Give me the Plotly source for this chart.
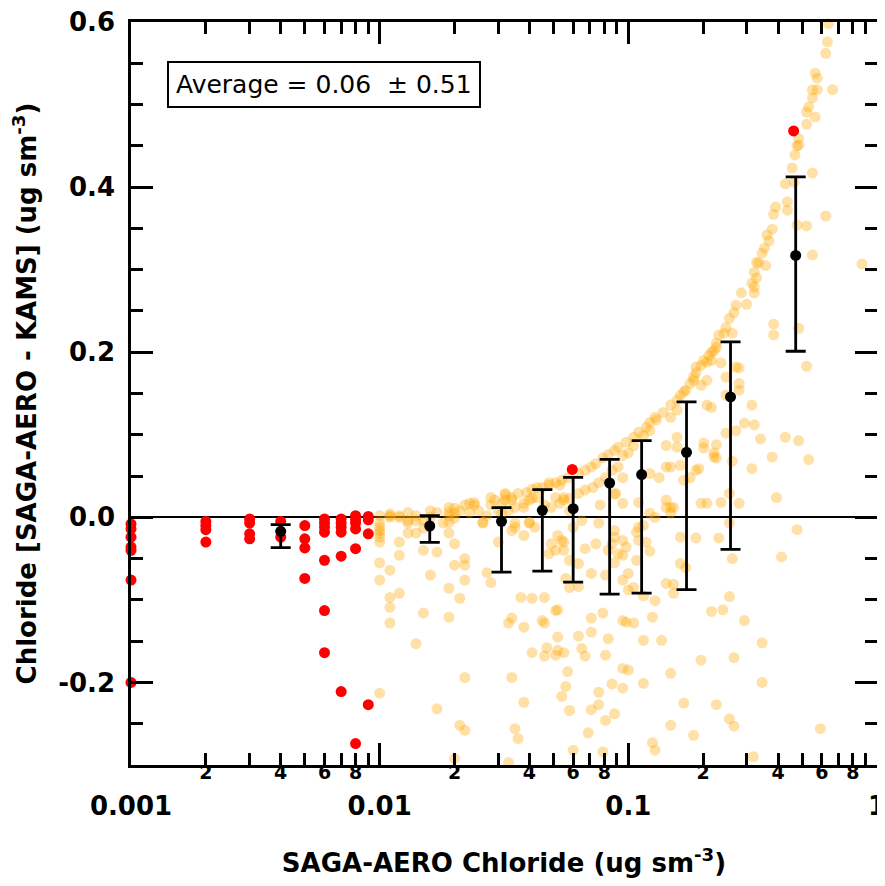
import plotly.graph_objects as go

# ---------------- data ----------------
# orange: all samples (x = SAGA-AERO chloride, y = SAGA-AERO - KAMS)
orange_x = [
    0.010, 0.010, 0.010, 0.010, 0.010, 0.010, 0.010, 0.010, 0.010, 0.010,
    0.011, 0.011, 0.011, 0.011, 0.011, 0.011, 0.011,
    0.012, 0.012, 0.012, 0.012, 0.012,
    0.013, 0.013, 0.013, 0.013,
    0.014, 0.014, 0.014, 0.014,
    0.015, 0.015, 0.015, 0.015,
    0.016, 0.016, 0.016,
    0.017, 0.017, 0.017,
    0.018,
    0.019, 0.019, 0.019, 0.019, 0.019, 0.019, 0.019,
    0.020, 0.020, 0.020, 0.020, 0.020, 0.020,
    0.021, 0.021, 0.021,
    0.022, 0.022, 0.022, 0.022, 0.022, 0.022,
    0.023, 0.023, 0.024, 0.024, 0.025, 0.026, 0.026,
    0.027, 0.027, 0.028, 0.028, 0.028, 0.029,
    0.030, 0.030, 0.031, 0.031, 0.032, 0.032, 0.032,
    0.033, 0.033, 0.033, 0.034, 0.034, 0.034, 0.034, 0.034,
    0.035, 0.035, 0.035, 0.035, 0.036, 0.036, 0.037,
    0.038, 0.038, 0.038, 0.038, 0.038, 0.039, 0.040, 0.040, 0.040,
    0.041, 0.041, 0.041, 0.041, 0.042, 0.043, 0.043, 0.045, 0.045,
    0.046, 0.046, 0.046, 0.046, 0.047, 0.048, 0.048, 0.048, 0.049, 0.049,
    0.051, 0.051, 0.051, 0.051, 0.051, 0.052, 0.052, 0.052, 0.052,
    0.053, 0.053, 0.054, 0.054, 0.054,
    0.055, 0.055, 0.055, 0.055, 0.055, 0.056, 0.056, 0.057, 0.057,
    0.058, 0.058, 0.058, 0.058, 0.058, 0.060, 0.060,
    0.063, 0.063, 0.063, 0.063, 0.063, 0.065, 0.065,
    0.067, 0.067, 0.067, 0.067, 0.069,
    0.071, 0.071, 0.071, 0.071, 0.071, 0.072, 0.074, 0.074,
    0.076, 0.076, 0.076, 0.076, 0.077, 0.079, 0.079, 0.079,
    0.081, 0.081, 0.081, 0.081, 0.083, 0.083, 0.083, 0.086, 0.086, 0.086,
    0.088, 0.088, 0.088, 0.088, 0.088, 0.088, 0.089, 0.091, 0.091, 0.091,
    0.095, 0.095, 0.095, 0.095, 0.095, 0.095, 0.095, 0.095, 0.095,
    0.098, 0.098, 0.098, 0.100, 0.100, 0.100, 0.100,
    0.105, 0.105, 0.105, 0.105, 0.108, 0.108, 0.110, 0.110, 0.110, 0.110,
    0.115, 0.115, 0.115, 0.115, 0.115, 0.118, 0.118,
    0.122, 0.122, 0.122, 0.122, 0.122, 0.125, 0.125,
    0.128, 0.128, 0.128, 0.128, 0.130, 0.133, 0.136, 0.138,
    0.142, 0.142, 0.142, 0.142, 0.142,
    0.148, 0.148, 0.148, 0.148, 0.148, 0.148, 0.148,
    0.152, 0.152, 0.152, 0.157, 0.157, 0.157, 0.157,
    0.162, 0.162, 0.162, 0.162, 0.167, 0.167, 0.167, 0.170, 0.170,
    0.177, 0.177, 0.183, 0.183, 0.183, 0.187, 0.187, 0.187, 0.187, 0.192,
    0.196, 0.196, 0.196, 0.196, 0.201, 0.201, 0.201,
    0.207, 0.207, 0.207, 0.207, 0.211, 0.216, 0.216, 0.216, 0.216,
    0.221, 0.221, 0.221, 0.226, 0.226, 0.226, 0.226, 0.226,
    0.231, 0.231, 0.236, 0.236, 0.240, 0.243,
    0.247, 0.247, 0.247, 0.247, 0.255, 0.255, 0.255, 0.255, 0.255,
    0.262, 0.262, 0.262, 0.266, 0.266, 0.266, 0.271, 0.271, 0.271,
    0.279, 0.279, 0.279, 0.279, 0.285, 0.293, 0.293, 0.299,
    0.314, 0.314, 0.314, 0.318, 0.321, 0.321, 0.321, 0.321,
    0.328, 0.328, 0.334, 0.340, 0.345, 0.345, 0.345, 0.353, 0.357, 0.361,
    0.368, 0.379, 0.379, 0.384, 0.384, 0.384, 0.391, 0.394, 0.413,
    0.428, 0.428, 0.436, 0.436, 0.456, 0.464, 0.468,
    0.477, 0.477, 0.477, 0.484, 0.484, 0.484, 0.484,
    0.521, 0.521, 0.521, 0.521, 0.531, 0.531,
    0.550, 0.550, 0.550, 0.550, 0.564, 0.564, 0.575, 0.575,
    0.592, 0.622, 0.622, 0.632, 0.638, 0.663, 0.870,
]
orange_y = [
    0.002, -0.007, -0.012, -0.016, -0.019, -0.024, -0.030, -0.055, -0.076, -0.213,
    0.002, 0.000, -0.064, -0.097, -0.109, -0.128, 0.004,
    -0.030, -0.046, -0.092, 0.000, 0.002,
    0.006, -0.019, -0.004, -0.007,
    -0.153, -0.019, 0.002, -0.004,
    -0.040, -0.116, -0.004, -0.013,
    0.008, -0.070, 0.000,
    -0.042, -0.232, 0.006,
    -0.007,
    0.012, -0.019, -0.086, -0.121, 0.002, -0.006, 0.006,
    -0.032, -0.058, -0.292, 0.005, -0.001, 0.011,
    -0.098, -0.252, 0.008,
    -0.050, -0.058, -0.076, -0.194, -0.258, 0.015,
    0.006, 0.017, 0.015, 0.018, 0.008, -0.007, -0.006,
    -0.067, 0.002, -0.079, 0.015, 0.024, 0.021,
    -0.030, 0.008, 0.017, 0.005, 0.021, 0.027, 0.029,
    -0.128, -0.297, 0.008, -0.122, -0.194, 0.024, 0.021, -0.016,
    -0.256, 0.012, -0.012, -0.007, -0.268, 0.029, -0.097,
    -0.133, -0.224, 0.017, -0.022, 0.012, 0.030, 0.021, -0.006, -0.007,
    -0.098, -0.164, 0.034, 0.023, -0.012, 0.024, 0.036, 0.036, -0.125,
    -0.097, -0.128, -0.168, 0.015, -0.158, 0.039, -0.044, 0.042, 0.012, -0.032,
    -0.113, -0.167, 0.042, -0.040, 0.024, -0.022, -0.112, -0.145, -0.161,
    0.017, 0.039, -0.217, 0.045, -0.028,
    0.024, 0.021, -0.030, -0.040, -0.164, -0.074, -0.205, -0.187, 0.048,
    0.023, 0.008, -0.052, -0.085, -0.234, -0.282, -0.012,
    0.053, 0.029, -0.084, -0.144, -0.056, -0.004, -0.159,
    0.057, -0.168, 0.033, -0.038, -0.261,
    0.061, -0.068, -0.122, -0.139, -0.233, 0.036, 0.065, -0.032,
    -0.227, 0.042, -0.007, -0.212, 0.015, 0.072, -0.116, -0.284,
    0.048, -0.070, -0.246, -0.167, 0.076, -0.040, -0.147, 0.057, -0.032, -0.202,
    0.081, -0.016, -0.024, -0.055, -0.238, 0.028, 0.029, 0.061, -0.044, 0.085,
    0.075, 0.017, -0.028, -0.046, -0.125, -0.183, -0.207, 0.048, -0.076,
    0.091, -0.036, -0.127, 0.078, -0.068, -0.088, -0.185,
    0.097, 0.087, -0.085, -0.128, -0.018, -0.052, 0.103, -0.012, 0.018, -0.028,
    0.099, -0.010, -0.095, -0.149, -0.201, 0.109, -0.030,
    0.105, 0.115, 0.053, 0.005, -0.041, -0.121, -0.273,
    -0.101, 0.121, 0.000, -0.282, 0.118, 0.048, -0.149, 0.127,
    0.021, 0.087, 0.061, 0.012, -0.080,
    0.136, 0.121, 0.061, -0.189, 0.012, 0.005, -0.252,
    0.012, -0.081, -0.092, 0.142, 0.130, 0.097, 0.085,
    0.063, 0.148, -0.024, -0.056, 0.045, -0.225, 0.152, 0.154, -0.061,
    0.162, 0.048, 0.170, -0.264, 0.166, -0.025, 0.182, 0.057, 0.175, 0.059,
    0.160, 0.017, -0.173, 0.184, 0.190, 0.090, 0.084,
    0.017, 0.188, 0.166, 0.136, 0.196, 0.190, 0.200, 0.133, -0.114,
    0.202, 0.078, 0.073, 0.211, 0.072, -0.227, 0.206, 0.088,
    -0.025, 0.221, 0.187, 0.018, -0.112, 0.223,
    0.148, 0.102, 0.230, 0.170, -0.244, -0.007, -0.096, 0.241, 0.029,
    -0.050, 0.223, 0.068, -0.170, -0.253, 0.248, 0.182, 0.105, 0.257,
    0.162, 0.017, 0.181, 0.154, 0.272, 0.114, -0.125, 0.258,
    0.136, 0.059, 0.284, -0.290, 0.297, 0.279, 0.272, 0.112,
    0.309, 0.290, 0.308, 0.095, 0.320, -0.152, -0.200, 0.326, 0.305, 0.342,
    0.335, 0.349, 0.073, 0.221, 0.234, 0.367, 0.376, 0.024, -0.048,
    0.404, 0.097, 0.372, 0.382, 0.423, 0.406, 0.439,
    0.450, 0.354, -0.015, 0.451, 0.459, 0.229, 0.093,
    0.183, 0.476, 0.491, 0.353, 0.497, 0.070,
    0.508, 0.518, 0.318, 0.417, 0.485, 0.538, 0.518, 0.532,
    -0.256, 0.365, 0.562, 0.576, 0.598, 0.518, 0.307,
]

# red: highlighted samples
red_x = [
    0.001, 0.001, 0.001, 0.001, 0.001, 0.001, 0.001,
    0.002, 0.002, 0.002, 0.002,
    0.003, 0.003, 0.003, 0.003,
    0.004, 0.004,
    0.005, 0.005, 0.005, 0.005,
    0.006, 0.006, 0.006, 0.006, 0.006, 0.006, 0.006,
    0.007, 0.007, 0.007, 0.007, 0.007, 0.007,
    0.008, 0.008, 0.008, 0.008, 0.008, 0.008,
    0.009, 0.009, 0.009, 0.009,
    0.0595, 0.462,
]
red_y = [
    -0.008, -0.014, -0.024, -0.036, -0.040, -0.076, -0.200,
    -0.005, -0.010, -0.015, -0.030,
    -0.002, -0.007, -0.020, -0.026,
    -0.005, -0.024,
    -0.010, -0.026, -0.037, -0.074,
    -0.002, -0.007, -0.012, -0.018, -0.052, -0.113, -0.164,
    -0.002, -0.007, -0.012, -0.018, -0.047, -0.211,
    0.002, -0.003, -0.007, -0.014, -0.038, -0.274,
    0.001, -0.003, -0.020, -0.227,
    0.058, 0.468,
]

# black: binned averages with ranges
bin_x = [0.004, 0.0159, 0.0309, 0.0451, 0.060, 0.0841, 0.1131, 0.1714, 0.2576, 0.471]
bin_mean = [-0.017, -0.0105, -0.0048, 0.0085, 0.0105, 0.0416, 0.0518, 0.0788, 0.1458, 0.3172]
bin_upper = [-0.0089, 0.002, 0.0118, 0.0336, 0.0485, 0.0703, 0.093, 0.1398, 0.2125, 0.4125]
bin_lower = [-0.0368, -0.0303, -0.0663, -0.0651, -0.0784, -0.093, -0.0917, -0.0876, -0.0388, 0.2012]

avg_value = 0.06
avg_sd = 0.51

# axis ticks
x_major = [0.001, 0.01, 0.1, 1]
x_major_text = ["0.001", "0.01", "0.1", "1"]
x_minor = [m * d for d in (0.001, 0.01, 0.1) for m in range(2, 10)]
x_minor_lab = [m * d for d in (0.001, 0.01, 0.1) for m in (2, 4, 6, 8)]
x_minor_text = [str(m) for d in (0.001, 0.01, 0.1) for m in (2, 4, 6, 8)]
y_major = [-0.2, 0.0, 0.2, 0.4, 0.6]
y_major_text = ["-0.2", "0.0", "0.2", "0.4", "0.6"]

# ---------------- figure ----------------
FONT = "DejaVu Sans"
fig = go.Figure()

fig.add_trace(go.Scatter(
    x=orange_x, y=orange_y, mode="markers",
    marker=dict(size=11, color="rgba(255,165,0,0.35)", line=dict(width=0)),
    cliponaxis=False, showlegend=False, hoverinfo="skip"))

fig.add_trace(go.Scatter(
    x=red_x, y=red_y, mode="markers",
    marker=dict(size=11, color="#ff0000", line=dict(width=0)),
    cliponaxis=False, showlegend=False))

fig.add_trace(go.Scatter(
    x=bin_x, y=bin_mean, mode="markers", xaxis="x2",
    marker=dict(size=11, color="black"),
    error_y=dict(type="data", symmetric=False,
                 array=[u - m for u, m in zip(bin_upper, bin_mean)],
                 arrayminus=[m - l for m, l in zip(bin_mean, bin_lower)],
                 color="black", thickness=2.8, width=10),
    cliponaxis=False, showlegend=False))

tick_common = dict(showline=True, linecolor="black", linewidth=2.5, mirror="ticks",
                   ticks="inside", tickwidth=2.5, tickcolor="black", ticklen=22,
                   showgrid=False, automargin=False, ticklabeloverflow="allow")

# the page body adds an 8px offset, so the figure is 8px smaller than the window
fig.update_layout(
    width=877, height=878,
    margin=dict(l=123, r=8, t=14, b=121),
    plot_bgcolor="white", paper_bgcolor="white",
    xaxis=dict(
        type="log", range=[-3, 0], tickvals=x_major, ticktext=x_major_text,
        tickfont=dict(family=FONT, size=26, color="black", weight="bold"),
        ticklabelstandoff=16, zeroline=False,
        minor=dict(tickvals=x_minor, ticks="inside", ticklen=12, tickwidth=2.5,
                   tickcolor="black", showgrid=False),
        title=dict(text="SAGA-AERO Chloride (ug sm<sup>-3</sup>)",
                   font=dict(family=FONT, size=26, color="black", weight="bold"),
                   standoff=34),
        **tick_common),
    xaxis2=dict(
        type="log", range=[-3, 0], overlaying="x", anchor="free", position=0.008,
        side="bottom",
        tickvals=x_minor_lab, ticktext=x_minor_text, ticks="", showline=False,
        showgrid=False, zeroline=False, automargin=False, ticklabeloverflow="allow",
        tickfont=dict(family=FONT, size=19, color="black", weight="bold")),
    yaxis=dict(
        range=[-0.3, 0.6], tickvals=y_major, ticktext=y_major_text,
        tickfont=dict(family=FONT, size=26, color="black", weight="bold"),
        ticklabelstandoff=8,
        zeroline=True, zerolinecolor="black", zerolinewidth=2,
        minor=dict(dtick=0.05, tick0=0, ticks="inside", ticklen=12, tickwidth=2.5,
                   tickcolor="black", showgrid=False),
        title=dict(text="Chloride [SAGA-AERO - KAMS] (ug sm<sup>-3</sup>)",
                   font=dict(family=FONT, size=26, color="black", weight="bold"),
                   standoff=18),
        **tick_common),
    annotations=[dict(
        xref="paper", yref="paper", x=0.048, y=0.947, xanchor="left", yanchor="top",
        text=f"Average = {avg_value:.2f}  \u00b1 {avg_sd:.2f}", showarrow=False,
        font=dict(family=FONT, size=25, color="black"),
        bordercolor="black", borderwidth=2, borderpad=7, bgcolor="white")],
)

fig.write_html("out.html")
